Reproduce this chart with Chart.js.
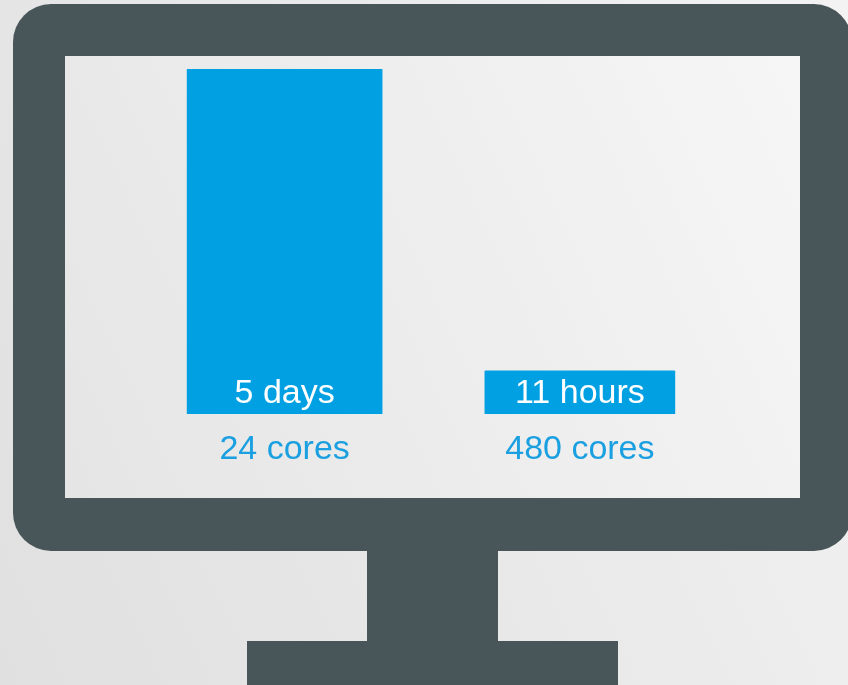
<!DOCTYPE html>
<html>
<head>
<meta charset="utf-8">
<title>Cores comparison</title>
<script src="https://cdn.jsdelivr.net/npm/chart.js@4"></script>
<style>
  html, body { margin: 0; padding: 0; overflow: hidden; }
  #page { position: relative; width: 848px; height: 685px; overflow: hidden;
    background: linear-gradient(65deg, #e0e0e0 0%, #ebebeb 60%, #f3f3f3 100%); }
  #page div { position: absolute; background: #495659; }
  #frame { left: 13px; top: 4px; width: 839px; height: 547px; border-radius: 38px; }
  #neck { left: 367px; top: 550px; width: 131px; height: 92px; }
  #foot { left: 247px; top: 641px; width: 371px; height: 44px; }
  #page #screen { left: 65px; top: 56px; width: 735px; height: 442px;
    background: linear-gradient(65deg, #e5e5e5 0%, #eeeeee 55%, #f6f6f6 100%); }
  canvas { position: absolute; left: 0; top: 0; }
</style>
</head>
<body>
<div id="page">
  <div id="frame"></div>
  <div id="neck"></div>
  <div id="foot"></div>
  <div id="screen"></div>
  <canvas id="chart" width="848" height="685"></canvas>
</div>
<script>
// Runtime per setup; bar heights, in hours
const CORES = ['24 cores', '480 cores'];
const BAR_LABELS = ['5 days', '11 hours'];
const HOURS_24_CORES = [120, null];
const HOURS_480_CORES = [null, 15];

const BLUE = '#00a0e3';
const LABEL_BLUE = '#1a9fe0';
const FONT = '"Liberation Sans", Arial, sans-serif';

// White text sitting at the foot of each bar
const barLabelPlugin = {
  id: 'barLabels',
  afterDatasetsDraw(chart) {
    const ctx = chart.ctx;
    ctx.save();
    ctx.fillStyle = '#fff';
    ctx.font = '34px ' + FONT;
    ctx.textAlign = 'center';
    ctx.textBaseline = 'middle';
    chart.data.datasets.forEach((ds, i) => {
      chart.getDatasetMeta(i).data.forEach((bar, j) => {
        if (ds.data[j] == null) return;
        ctx.fillText(BAR_LABELS[j], bar.x, bar.base - 20);
      });
    });
    ctx.restore();
  },
};

new Chart(document.getElementById('chart'), {
  type: 'bar',
  data: {
    labels: CORES,
    datasets: [
      { data: HOURS_24_CORES, backgroundColor: BLUE, barThickness: 195, borderRadius: 1, borderSkipped: false },
      { data: HOURS_480_CORES, backgroundColor: BLUE, barThickness: 190, borderRadius: 1, borderSkipped: false },
    ],
  },
  options: {
    responsive: false,
    animation: false,
    layout: { padding: { left: 137, right: 120.5, top: 69, bottom: 0 } },
    plugins: { legend: { display: false }, tooltip: { enabled: false } },
    scales: {
      x: {
        stacked: true,
        grid: { display: false },
        border: { display: false },
        ticks: { color: LABEL_BLUE, font: { family: FONT, size: 34 }, padding: 7, maxRotation: 0 },
        afterFit(scale) { scale.height = 271; },
      },
      y: { display: false, stacked: false, min: 0, max: 120 },
    },
  },
  plugins: [barLabelPlugin],
});
</script>
</body>
</html>
